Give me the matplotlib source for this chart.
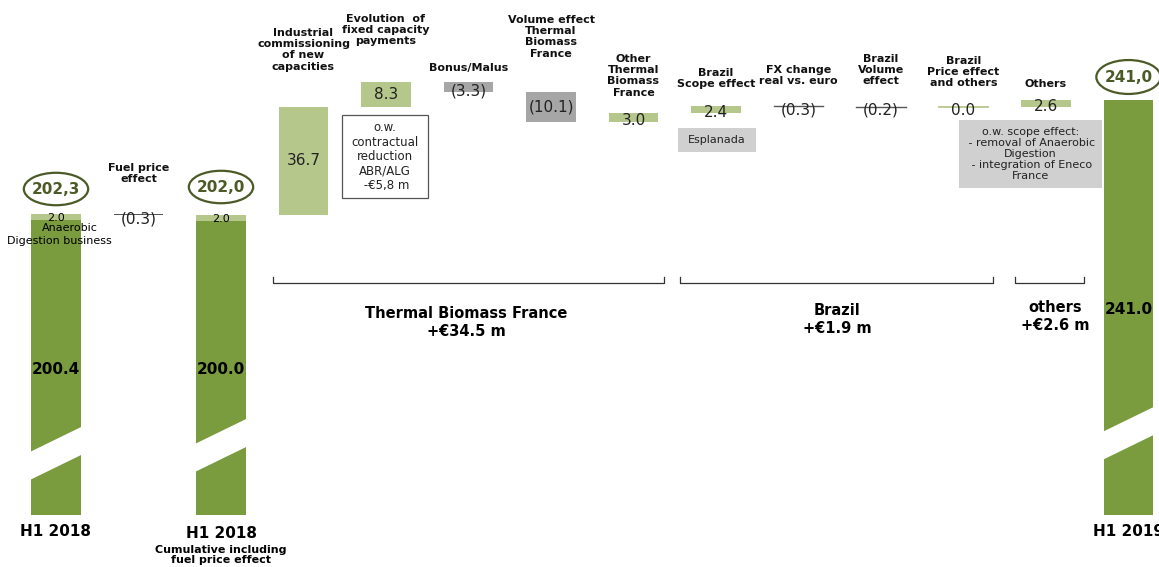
import matplotlib
matplotlib.use("Agg")
import matplotlib.pyplot as plt
from matplotlib.patches import Ellipse, Polygon, Rectangle

# ---------------- data ----------------
start_label = "H1 2018"
start_total = 202.3
start_main = 200.4
start_ad = 2.0

fuel_label = "Fuel price\neffect"
fuel_delta = -0.3

cum_label = "H1 2018"
cum_sub = "Cumulative including\nfuel price effect"
cum_total = 202.0
cum_main = 200.0
cum_ad = 2.0

step_labels = [
    "Industrial\ncommissioning\nof new\ncapacities",
    "Evolution  of\nfixed capacity\npayments",
    "Bonus/Malus",
    "Volume effect\nThermal\nBiomass\nFrance",
    "Other\nThermal\nBiomass\nFrance",
    "Brazil\nScope effect",
    "FX change\nreal vs. euro",
    "Brazil\nVolume\neffect",
    "Brazil\nPrice effect\nand others",
    "Others",
]
step_values = [36.7, 8.3, -3.3, -10.1, 3.0, 2.4, -0.3, -0.2, 0.0, 2.6]

end_label = "H1 2019"
end_total = 241.0

groups = ["Thermal Biomass France\n+€34.5 m", "Brazil\n+€1.9 m", "others\n+€2.6 m"]

# ---------------- style ----------------
DARK = "#7A9C3E"
LIGHT = "#B6C78C"
GREY = "#A6A6A6"
LINE = "#555555"
OLIVE = "#4B5A26"
BOXGREY = "#D0D0D0"

W, H = 1159, 567
V0, P0, S = 202.3, 214.0, 2.95   # value <-> pixel mapping (layout only)
PX0, PXS = 56.0, 82.5
BASE = 100.3                     # bars start here (broken axis)


def yv(py):
    return V0 - (py - P0) / S


def xv(px):
    return (px - PX0) / PXS


fig = plt.figure(figsize=(W / 100, H / 100), dpi=100)
ax = fig.add_axes([0, 0, 1, 1])
ax.set_xlim(xv(0), xv(W))
ax.set_ylim(yv(H), yv(0))
ax.axis("off")

BW = 0.594
FONT = "DejaVu Sans"


def header(x, text, top_py, size=8):
    ax.text(x, yv(top_py), text, ha="center", va="top", fontsize=size,
            fontweight="bold", family=FONT, linespacing=1.15, color="#111111")


def ellipse_label(x, total, py, h=11.0):
    e = Ellipse((x, yv(py)), 0.78, h, facecolor="white", edgecolor=OLIVE,
                linewidth=1.6, zorder=3)
    ax.add_patch(e)
    ax.text(x, yv(py), f"{total:.1f}".replace(".", ","), ha="center",
            va="center", fontsize=11, fontweight="bold", color=OLIVE,
            family=FONT, zorder=4)


def total_bar(x, total, main, ad, label_py, ell_py):
    ax.bar(x, total - ad - BASE, bottom=BASE, width=BW, color=DARK, zorder=2)
    ax.bar(x, ad, bottom=total - ad, width=BW, color=LIGHT, zorder=2)
    ax.text(x, yv(label_py), f"{main:.1f}", ha="center", va="center",
            fontsize=11, fontweight="bold", color="black", family=FONT, zorder=4)
    ellipse_label(x, total, ell_py)


def break_band(x, left_top_py):
    x0, x1 = x - BW / 2 - 0.02, x + BW / 2 + 0.02
    lt = left_top_py
    pts = [(x0, yv(lt)), (x1, yv(lt - 25.5)), (x1, yv(lt - 25.5 + 28)),
           (x0, yv(lt + 28))]
    ax.add_patch(Polygon(pts, closed=True, facecolor="white", edgecolor="none",
                         zorder=3))


# start bar
total_bar(0, start_total, start_main, start_ad, 369, 189)
break_band(0, 452)
ax.text(0, yv(218), f"{start_ad:.1f}", ha="center", va="center", fontsize=8,
        family=FONT, zorder=4)
ax.text(xv(70), yv(228), "Anaerobic", ha="center", va="center", fontsize=8,
        family=FONT, zorder=4)
ax.text(xv(59), yv(241), "Digestion business", ha="center", va="center",
        fontsize=8, family=FONT, zorder=4)
ax.text(0, yv(531), start_label, ha="center", va="center", fontsize=11,
        fontweight="bold", family=FONT)

# fuel effect
ax.bar(1, fuel_delta, bottom=start_total, width=BW, color=LINE, zorder=2)
ax.text(1, yv(219), f"({abs(fuel_delta):.1f})", ha="center", va="center",
        fontsize=11, family=FONT, color="#222222", zorder=4)
header(1, fuel_label, 163)

# cumulative bar
total_bar(2, cum_total, cum_main, cum_ad, 369, 187)
break_band(2, 444)
ax.text(2, yv(219), f"{cum_ad:.1f}", ha="center", va="center", fontsize=8,
        family=FONT, zorder=4)
ax.text(2, yv(533), cum_label, ha="center", va="center", fontsize=11,
        fontweight="bold", family=FONT)
ax.text(2, yv(555), cum_sub, ha="center", va="center", fontsize=8,
        fontweight="bold", family=FONT, linespacing=1.1)

# ---- steps ----
header_tops = [28, 14, 63, 15, 54, 68, 65, 54, 56, 79]
level = cum_total
for i, (lab, v) in enumerate(zip(step_labels, step_values)):
    x = 3 + i
    if abs(v) < 0.5:
        col = LIGHT if v >= 0 else LINE
        ax.plot([x - BW / 2, x + BW / 2], [level + v / 2] * 2, color=col,
                lw=1.3 if v == 0 else 1.0, zorder=2)
    else:
        col = LIGHT if v > 0 else GREY
        ax.bar(x, v, bottom=level, width=BW, color=col, zorder=2)
    mid = level + v / 2
    txt = f"{v:.1f}" if v >= 0 else f"({abs(v):.1f})"
    dy = -1.2 if abs(v) < 5 else 0
    ax.text(x, mid + dy, txt, ha="center", va="center", fontsize=11,
            family=FONT, color="#222222", zorder=4)
    header(x, lab, header_tops[i])
    level += v

# end bar
ax.bar(13, end_total - BASE, bottom=BASE, width=BW, color=DARK, zorder=2)
break_band(13, 432)
ax.text(13, yv(310), f"{end_total:.1f}", ha="center", va="center", fontsize=11,
        fontweight="bold", family=FONT, zorder=4)
ellipse_label(13, end_total, 77, 11.5)
ax.text(13, yv(531), end_label, ha="center", va="center", fontsize=11,
        fontweight="bold", family=FONT)


# ---- annotation boxes ----
def box(px0, py0, px1, py1, text, fc, ec, size=8):
    ax.add_patch(Rectangle((xv(px0), yv(py1)), xv(px1) - xv(px0),
                           yv(py0) - yv(py1), facecolor=fc, edgecolor=ec,
                           lw=0.9, zorder=3))
    ax.text(xv((px0 + px1) / 2), yv((py0 + py1) / 2), text, ha="center",
            va="center", fontsize=size, family=FONT, color="#222222",
            linespacing=1.15, zorder=4)


box(342, 115, 428, 198, "o.w.\ncontractual\nreduction\nABR/ALG\n -€5,8 m",
    "white", "#555555", 8.5)
box(678, 128, 756, 152, "Esplanada", BOXGREY, "none", 8)
box(959, 120, 1102, 188,
    "o.w. scope effect:\n - removal of Anaerobic\nDigestion\n - integration of Eneco\nFrance",
    BOXGREY, "none", 8)

# ---- group brackets ----
br_px = [(273, 664), (680, 993), (1015, 1084)]
for a, b in br_px:
    yb, yt = yv(283), yv(277)
    ax.plot([xv(a), xv(a), xv(b), xv(b)], [yt, yb, yb, yt], color="#333333",
            lw=0.9)
for g, cx, py in zip(groups, [466, 837, 1055], [313, 310, 307]):
    ax.text(xv(cx), yv(py - 7), g, ha="center", va="top", fontsize=10.5,
            fontweight="bold", family=FONT, linespacing=1.25)

fig.savefig("out.png", dpi=100)
